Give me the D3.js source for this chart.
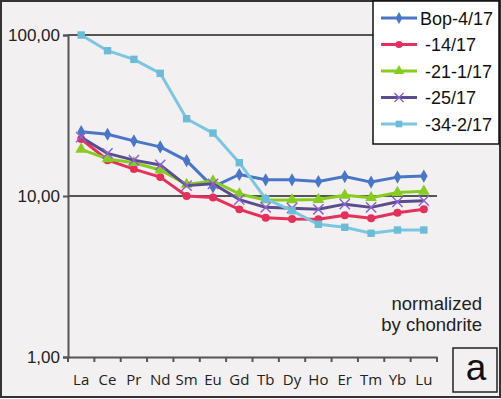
<!DOCTYPE html>
<html>
<head>
<meta charset="utf-8">
<script src="https://cdn.jsdelivr.net/npm/d3@7"></script>
<style>
  body { margin: 0; background: #fff; }
  svg text { font-family: "Liberation Sans", Arial, sans-serif; }
</style>
</head>
<body>
<div id="chart"></div>
<script>
// REE, chondrite normalized
var elements = ["La", "Ce", "Pr", "Nd", "Sm", "Eu", "Gd", "Tb", "Dy", "Ho", "Er", "Tm", "Yb", "Lu"];
var bop4 = [25.1, 24.2, 22.0, 20.2, 16.6, 11.4, 13.6, 12.6, 12.6, 12.3, 13.2, 12.2, 13.1, 13.3];
var s14 = [22.6, 16.7, 14.7, 13.1, 10.0, 9.8, 8.26, 7.33, 7.2, 7.17, 7.59, 7.27, 7.88, 8.27];
var s21 = [19.5, 17.0, 16.1, 14.5, 11.8, 12.4, 10.3, 9.45, 9.45, 9.5, 10.1, 9.76, 10.5, 10.7];
var s25 = [23.2, 18.4, 16.7, 15.6, 11.6, 11.9, 9.5, 8.5, 8.4, 8.27, 8.9, 8.5, 9.2, 9.35];
var s34 = [100, 79.9, 70.6, 57.8, 30.2, 24.6, 16.1, 9.6, 8.1, 6.67, 6.39, 5.87, 6.15, 6.15];
var names = ["Bop-4/17", " -14/17", " -21-1/17", " -25/17", " -34-2/17"];
var yTicks = [1, 10, 100];

var W = 501, H = 399;
var series = [
  { name: names[0], values: bop4, color: "#4a76c8", mark: "#4a76c8", shape: d3.symbolDiamond, size: 50 },
  { name: names[1], values: s14, color: "#e6305c", mark: "#e6305c", shape: d3.symbolCircle, size: 50 },
  { name: names[2], values: s21, color: "#88cc22", mark: "#88cc22", shape: d3.symbolTriangle, size: 60 },
  { name: names[3], values: s25, color: "#5a4c8e", mark: "#8a64d0", shape: d3.symbolX, size: 70 },
  { name: names[4], values: s34, color: "#7cc6e0", mark: "#6cbcd8", shape: d3.symbolSquare, size: 55 }
];

var svg = d3.select("#chart").append("svg")
  .attr("width", W).attr("height", H);

svg.append("rect").attr("x", 1).attr("y", 1).attr("width", W - 2).attr("height", H - 3)
  .attr("fill", "#f3f0f1").attr("stroke", "#333").attr("stroke-width", 2);

var x = d3.scaleBand().domain(elements).range([68, 437]);
var y = d3.scaleLog().domain([1, 100]).range([357, 35]);

// gridlines
svg.selectAll(".grid").data(yTicks.slice(1)).enter().append("line")
  .attr("x1", 68).attr("x2", 437)
  .attr("y1", function(d) { return y(d); }).attr("y2", function(d) { return y(d); })
  .attr("stroke", "#555").attr("stroke-width", 2);

// y axis
var yAxis = svg.append("g").attr("transform", "translate(68,0)")
  .call(d3.axisLeft(y).tickValues(yTicks).tickSize(5).tickPadding(3)
    .tickFormat(function(d) { return d3.format(".2f")(d).replace(".", ","); }));
yAxis.select(".domain").attr("stroke", "#555").attr("stroke-width", 2);
yAxis.selectAll(".tick line").attr("stroke", "#555").attr("stroke-width", 2);
yAxis.selectAll("text").attr("font-size", 17).attr("fill", "#222")
  .style("font-family", "'Liberation Sans', Arial, sans-serif");

// x axis
var xAxis = svg.append("g").attr("transform", "translate(0,357)")
  .call(d3.axisBottom(x).tickSize(0).tickPadding(17));
xAxis.select(".domain").attr("stroke", "#555").attr("stroke-width", 2);
xAxis.selectAll("text").attr("font-size", 15).attr("fill", "#222")
  .style("font-family", "'Open Sans', sans-serif");
xAxis.selectAll(".bound").data(d3.range(elements.length + 1)).enter().append("line")
  .attr("x1", function(i) { return 68 + i * x.step(); })
  .attr("x2", function(i) { return 68 + i * x.step(); })
  .attr("y1", 0).attr("y2", 5)
  .attr("stroke", "#555").attr("stroke-width", 2);

var line = d3.line()
  .x(function(d, i) { return x(elements[i]) + x.bandwidth() / 2; })
  .y(function(d) { return y(d); });

series.forEach(function(s) {
  var g = svg.append("g");
  g.append("path").datum(s.values)
    .attr("d", line).attr("fill", "none")
    .attr("stroke", s.color).attr("stroke-width", 3).attr("stroke-linejoin", "round");
  g.selectAll("path.m").data(s.values).enter().append("path")
    .attr("class", "m")
    .attr("d", d3.symbol().type(s.shape).size(s.size))
    .attr("transform", function(d, i) {
      return "translate(" + (x(elements[i]) + x.bandwidth() / 2) + "," + y(d) + ")";
    })
    .attr("fill", s.mark)
    .attr("stroke", s.mark).attr("stroke-width", s.shape === d3.symbolX ? 1.5 : 0);
});

// legend
var leg = svg.append("g");
leg.append("rect").attr("x", 373).attr("y", 1).attr("width", 126).attr("height", 143)
  .attr("fill", "#fff").attr("stroke", "#111").attr("stroke-width", 1.5);
series.forEach(function(s, i) {
  var ly = 18 + i * 26.5;
  leg.append("line").attr("x1", 381).attr("x2", 417).attr("y1", ly).attr("y2", ly)
    .attr("stroke", s.color).attr("stroke-width", 3);
  leg.append("path")
    .attr("d", d3.symbol().type(s.shape).size(s.size * 0.8))
    .attr("transform", "translate(399," + ly + ")")
    .attr("fill", s.mark).attr("stroke", s.mark)
    .attr("stroke-width", s.shape === d3.symbolX ? 1.5 : 0);
  leg.append("text").attr("x", 420).attr("y", ly + 6.5)
    .attr("font-size", 18).attr("fill", "#111")
    .style("white-space", "pre")
    .text(s.name);
});

// note
svg.append("text").attr("x", 482).attr("y", 310).attr("text-anchor", "end")
  .attr("font-size", 18.5).attr("fill", "#222").text("normalized");
svg.append("text").attr("x", 482).attr("y", 331).attr("text-anchor", "end")
  .attr("font-size", 18.5).attr("fill", "#222").text("by chondrite");

// panel letter
svg.append("rect").attr("x", 453).attr("y", 348).attr("width", 44).attr("height", 44)
  .attr("fill", "#f3f0f1").attr("stroke", "#222").attr("stroke-width", 1.5);
svg.append("text").attr("x", 476).attr("y", 380).attr("text-anchor", "middle")
  .attr("font-size", 37).attr("fill", "#111").text("a");
</script>
</body>
</html>
